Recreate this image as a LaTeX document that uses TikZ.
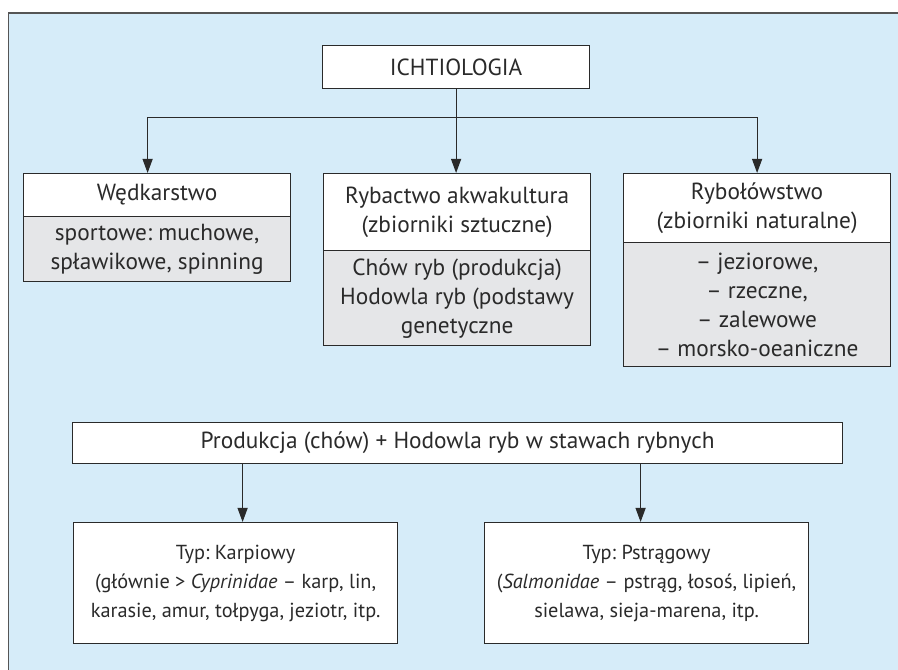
\documentclass[tikz,border=0pt]{standalone}
\usepackage{fontspec}
\setmainfont{PT Sans}
\usetikzlibrary{arrows.meta}
\definecolor{bgblue}{HTML}{D6ECF9}
\definecolor{bodygray}{HTML}{E5E6E8}
\definecolor{linec}{HTML}{2A2A2A}
\definecolor{framec}{HTML}{555555}
\frenchspacing
\begin{document}
\begin{tikzpicture}[x=1pt,y=1pt,
  txt/.style={font=\fontsize{23.3}{29}\selectfont\frenchspacing},
  smalltxt/.style={font=\fontsize{20.3}{29}\selectfont\frenchspacing},
  box/.style={txt, draw=linec, line width=1.2pt, fill=white, anchor=north west,
    minimum width=267pt, inner sep=0pt, align=center, text=linec},
  graybox/.style={box, fill=bodygray},
  typebox/.style={box, smalltxt, minimum width=324pt, minimum height=121pt},
  arr/.style={draw=linec, line width=1.1pt, -{Triangle[length=14pt,width=10pt]}},
  ln/.style={draw=linec, line width=1.1pt}]
\clip (0,0) rectangle (898,670);
\fill[white] (0,0) rectangle (898,670);
\filldraw[fill=bgblue, draw=framec, line width=1.2pt] (8.5,-10) rectangle (910,657);

\node[box, minimum height=43pt] (ich) at (322,625) {ICHTIOLOGIA};

\node[box, minimum height=43pt] (wh) at (23,497) {Wędkarstwo};
\node[graybox, minimum height=65pt] (wb) at (23,454) {sportowe: muchowe,\\ spławikowe, spinning};

\node[box, minimum height=77pt] (mh) at (323,497) {Rybactwo akwakultura\\ (zbiorniki sztuczne)};
\node[graybox, minimum height=95pt] (mb) at (323,420) {Chów ryb (produkcja)\\ Hodowla ryb (podstawy\\ genetyczne};

\node[box, minimum height=69pt] (rh) at (623,497) {Rybołówstwo\\ (zbiorniki naturalne)};
\node[graybox, minimum height=124pt] (rb) at (623,428) {– jeziorowe,\\ – rzeczne,\\ – zalewowe\\ – morsko-oeaniczne};

\node[box, minimum width=770pt, minimum height=41pt] (prod) at (72,248) {Produkcja (chów) + Hodowla ryb w stawach rybnych};

\node[typebox] (karp) at (73,148) {Typ: Karpiowy\\ (głównie > \textit{Cyprinidae} – karp, lin,\\ karasie, amur, tołpyga, jeziotr, itp.};
\node[typebox] (pstr) at (484,148) {Typ: Pstrągowy\\ (\textit{Salmonidae} – pstrąg, łosoś, lipień,\\ sielawa, sieja-marena, itp.};

% connectors top
\coordinate (branch) at ([yshift=-28pt]ich.south);
\coordinate (lt) at ([xshift=-9.5pt]wh.north);
\draw[arr] (ich.south) -- (mh.north -| ich.south);
\draw[ln] (lt |- branch) -- (rh.north |- branch);
\draw[arr] (lt |- branch) -- (lt);
\draw[arr] (rh.north |- branch) -- (rh.north);

% connectors bottom
\coordinate (kt) at ([xshift=7pt]karp.north);
\coordinate (pt) at ([xshift=-6pt]pstr.north);
\draw[arr] (kt |- prod.south) -- (kt);
\draw[arr] (pt |- prod.south) -- (pt);
\end{tikzpicture}
\end{document}
